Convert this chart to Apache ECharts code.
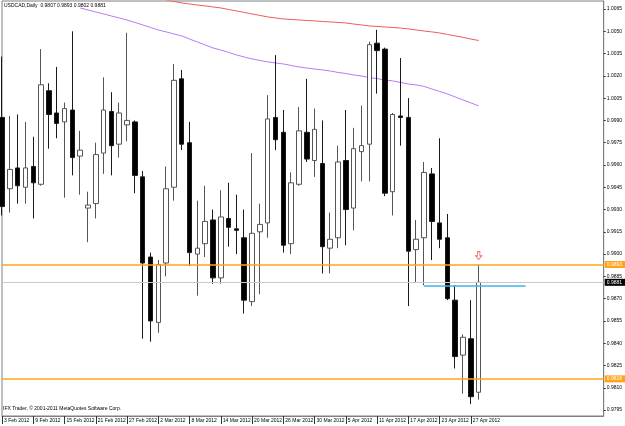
<!DOCTYPE html>
<html>
<head>
<meta charset="utf-8">
<script src="https://cdn.jsdelivr.net/npm/echarts/dist/echarts.min.js"></script>
<style>
html,body{margin:0;padding:0;background:#fff}
#chart{width:625px;height:426px}
</style>
</head>
<body>
<div id="chart"></div>
<script>
// daily bars, USDCAD
const dates = ['3 Feb 2012','6 Feb 2012','7 Feb 2012','8 Feb 2012','9 Feb 2012','10 Feb 2012',
  '13 Feb 2012','14 Feb 2012','15 Feb 2012','16 Feb 2012','17 Feb 2012',
  '20 Feb 2012','21 Feb 2012','22 Feb 2012','23 Feb 2012','24 Feb 2012',
  '27 Feb 2012','28 Feb 2012','29 Feb 2012','1 Mar 2012','2 Mar 2012',
  '5 Mar 2012','6 Mar 2012','7 Mar 2012','8 Mar 2012','9 Mar 2012',
  '12 Mar 2012','13 Mar 2012','14 Mar 2012','15 Mar 2012','16 Mar 2012',
  '19 Mar 2012','20 Mar 2012','21 Mar 2012','22 Mar 2012','23 Mar 2012',
  '26 Mar 2012','27 Mar 2012','28 Mar 2012','29 Mar 2012','30 Mar 2012',
  '2 Apr 2012','3 Apr 2012','4 Apr 2012','5 Apr 2012','6 Apr 2012',
  '9 Apr 2012','10 Apr 2012','11 Apr 2012','12 Apr 2012','13 Apr 2012',
  '16 Apr 2012','17 Apr 2012','18 Apr 2012','19 Apr 2012','20 Apr 2012',
  '23 Apr 2012','24 Apr 2012','25 Apr 2012','26 Apr 2012','27 Apr 2012',
  '30 Apr 2012']

const opens = [0.9992,0.9944,0.9958,0.9945,0.9959,0.9947,1.0010,0.9995,0.9989,0.9997,
  0.9966,0.9931,0.9934,0.9968,0.9996,0.9974,0.9987,0.9989,0.9952,0.9898,
  0.9854,0.9894,0.9945,1.0018,0.9975,0.9900,0.9907,0.9923,0.9884,0.9924,
  0.9917,0.9911,0.9868,0.9915,0.9921,0.9992,0.9982,0.9907,0.9947,0.9982,
  0.9963,0.9961,0.9904,0.9911,0.9963,0.9931,0.9969,0.9974,1.0042,1.0038,
  0.9942,0.9993,0.9992,0.9903,0.9911,0.9954,0.9921,0.9911,0.9869,0.9832,
  0.9843,0.9807]
const highs = [1.0033,0.9993,0.9994,0.9989,0.9979,1.0038,1.0015,1.0026,1.0002,1.0050,
  0.9983,0.9942,0.9975,1.0019,1.0009,1.0002,1.0049,0.9990,0.9956,0.9901,
  0.9896,0.9959,1.0028,1.0024,0.9989,0.9936,0.9946,0.9930,0.9943,0.9948,
  0.9940,0.9930,0.9968,0.9934,1.0007,1.0034,0.9997,0.9955,0.9999,1.0018,
  0.9998,0.9990,0.9928,0.9973,0.9997,0.9985,1.0000,1.0043,1.0051,1.0039,
  0.9995,1.0032,1.0005,0.9923,0.9962,0.9958,0.9978,0.9927,0.9879,0.9846,
  0.9869,0.9893]
const lows = [0.9926,0.9928,0.9934,0.9934,0.9924,0.9946,0.9971,0.9978,0.9938,0.9953,
  0.9940,0.9908,0.9924,0.9954,0.9953,0.9965,0.9976,0.9941,0.9843,0.9841,
  0.9847,0.9885,0.9936,0.9970,0.9892,0.9872,0.9898,0.9880,0.9880,0.9905,
  0.9900,0.9860,0.9865,0.9873,0.9911,0.9970,0.9901,0.9900,0.9946,0.9962,
  0.9952,0.9887,0.9887,0.9904,0.9906,0.9916,0.9949,0.9949,1.0008,0.9939,
  0.9926,0.9973,0.9865,0.9881,0.9879,0.9896,0.9904,0.9869,0.9823,0.9806,
  0.9799,0.9802]
const closes = [0.9932,0.9957,0.9946,0.9958,0.9948,1.0014,0.9994,0.9988,0.9998,0.9965,
  0.9970,0.9933,0.9967,0.9997,0.9973,0.9995,0.9990,0.9953,0.9894,0.9855,
  0.9893,0.9944,1.0017,0.9974,0.9901,0.9904,0.9922,0.9884,0.9925,0.9918,
  0.9916,0.9869,0.9914,0.9920,0.9991,0.9977,0.9906,0.9948,0.9983,0.9964,
  0.9984,0.9905,0.9910,0.9962,0.9930,0.9971,0.9973,1.0041,1.0037,0.9941,
  0.9994,0.9992,0.9902,0.9910,0.9955,0.9922,0.9910,0.9870,0.9831,0.9844,
  0.9804,0.9881]

// moving averages (purple starts at bar 10, red at bar 21)
const maFastStart = 10
const maFast = [1.00657,1.00644,1.00630,1.00617,1.00603,1.00590,1.00576,1.00560,1.00543,1.00526,
  1.00509,1.00496,1.00482,1.00469,1.00448,1.00428,1.00408,1.00388,1.00374,1.00358,
  1.00341,1.00327,1.00314,1.00304,1.00294,1.00287,1.00280,1.00270,1.00260,1.00253,
  1.00246,1.00240,1.00233,1.00223,1.00216,1.00206,1.00199,1.00189,1.00182,1.00172,
  1.00166,1.00156,1.00145,1.00139,1.00129,1.00112,1.00095,1.00078,1.00058,1.00038,
  1.00018,0.99998]
const maSlowStart = 21
const maSlow = [1.00711,1.00701,1.00691,1.00684,1.00677,1.00671,1.00664,1.00657,1.00647,1.00637,
  1.00627,1.00617,1.00607,1.00597,1.00590,1.00583,1.00580,1.00576,1.00573,1.00570,
  1.00566,1.00563,1.00560,1.00556,1.00549,1.00543,1.00536,1.00533,1.00529,1.00526,
  1.00522,1.00516,1.00509,1.00502,1.00496,1.00489,1.00479,1.00469,1.00459,1.00448,
  1.00438]

const priceTicks = [0.9795,0.9810,0.9825,0.9840,0.9855,0.9870,0.9885,0.9900,0.9915,0.9930,
  0.9945,0.9960,0.9975,0.9990,1.0005,1.0020,1.0035,1.0050,1.0065]

const levels = [0.9893, 0.9816]   // orange horizontal levels
const bidPrice = 0.9881
const bluePrice = 0.9879
const blueFrom = 54, blueTo = 67
const emptySlots = 16              // free space right of the last bar

const categories = dates.concat(new Array(emptySlots).fill(''))
const candles = dates.map((d, i) => [opens[i], closes[i], lows[i], highs[i]])
const pad = (start, arr) => new Array(start).fill('-').concat(arr)
const last = dates.length - 1
const lastCat = categories.length - 1
const fmt = v => v.toFixed(4)
const every4 = (i, v) => v !== '' && i % 4 === 0

const font = 'Liberation Sans, Arial, sans-serif'

// full width horizontal line with a price box on the axis
function levelLine(v, color, width, boxColor) {
  return [
    {coord: [0, v], lineStyle: {color: color, width: width, type: 'solid'},
      label: {show: true, position: 'end', distance: 1, formatter: fmt(v), color: '#fff',
        backgroundColor: boxColor, fontSize: 5, fontFamily: font, padding: [1, 3, 1, 2]}},
    {coord: [lastCat, v]}
  ]
}

let chart = echarts.init(document.getElementById('chart'))
chart.setOption({
  backgroundColor: '#ffffff',
  animation: false,
  grid: {left: 2, right: 19, top: 1, bottom: 10, show: true, borderColor: '#808080', borderWidth: 1},
  xAxis: {
    type: 'category',
    data: categories,
    boundaryGap: false,
    axisLine: {lineStyle: {color: '#808080'}},
    axisTick: {interval: every4, length: 8, lineStyle: {color: '#333'}},
    axisLabel: {interval: every4, align: 'left', margin: 2, padding: [0, 0, 0, 2],
      fontSize: 5, fontFamily: font, color: '#000'},
    splitLine: {show: false}
  },
  yAxis: {
    type: 'value',
    position: 'right',
    min: 0.97910,
    max: 1.00704,
    splitLine: {show: false},
    axisLine: {show: true, lineStyle: {color: '#808080'}},
    axisTick: {show: true, length: 2, customValues: priceTicks, lineStyle: {color: '#333'}},
    axisLabel: {customValues: priceTicks, formatter: fmt, margin: 3,
      fontSize: 5, fontFamily: font, color: '#000'}
  },
  graphic: [
    {type: 'text', left: 4, top: 3,
      style: {text: 'USDCAD,Daily  ' + [opens[last], highs[last], lows[last], closes[last]].map(fmt).join(' '),
        font: '5px ' + font, fill: '#000'}},
    {type: 'text', left: 3, top: 406,
      style: {text: 'IFX Trader, © 2001-2011 MetaQuotes Software Corp.', font: '5px ' + font, fill: '#000'}}
  ],
  series: [
    {
      type: 'line', data: pad(maSlowStart, maSlow), showSymbol: false, symbol: 'none',
      lineStyle: {color: '#f05a5a', width: 1}, z: 1
    },
    {
      type: 'line', data: pad(maFastStart, maFast), showSymbol: false, symbol: 'none',
      lineStyle: {color: '#b57cf2', width: 1}, z: 1
    },
    {
      type: 'candlestick',
      data: candles,
      barWidth: 5,
      z: 3,
      itemStyle: {color: '#ffffff', color0: '#000000', borderColor: '#555555', borderColor0: '#1a1a1a', borderWidth: 1}
    },
    {
      // price levels and marks
      type: 'line', data: [], clip: false, z: 4,
      markLine: {
        silent: true, symbol: 'none', animation: false,
        data: [
          levelLine(bidPrice, '#c8c8c8', 1, '#000'),
          ...levels.map(v => levelLine(v, '#ffa31a', 1.5, '#ffa31a')),
          [{coord: [blueFrom, bluePrice], lineStyle: {color: '#3cb4f0', width: 1.5, type: 'solid'}, label: {show: false}},
           {coord: [blueTo, bluePrice]}]
        ]
      },
      markPoint: {
        silent: true, animation: false,
        data: [{coord: [last, 0.9899],
          symbol: 'path://M3,0 L7,0 L7,6 L10,6 L5,11 L0,6 L3,6 Z', symbolSize: [6, 8],
          itemStyle: {color: '#fff', borderColor: '#f07070', borderWidth: 1},
          label: {show: false}}]
      }
    }
  ]
})
</script>
</body>
</html>
